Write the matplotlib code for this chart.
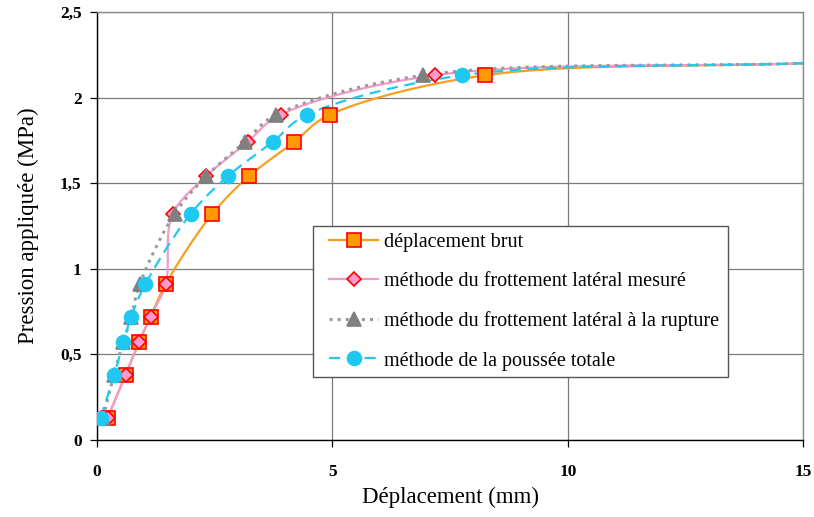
import numpy as np
import matplotlib
matplotlib.use("Agg")
import matplotlib.pyplot as plt
from matplotlib.lines import Line2D
from matplotlib.patches import Rectangle
from matplotlib.ticker import FuncFormatter

plt.rcParams["font.family"] = ["Liberation Serif", "DejaVu Serif"]

# Pression appliquée (MPa), shared by all series; last point has no marker
PRESSION = [0.13, 0.38, 0.57, 0.72, 0.91, 1.32, 1.54, 1.74, 1.90, 2.13, 2.20]

DEPL_BRUT    = [0.23, 0.61, 0.89, 1.14, 1.46, 2.45, 3.23, 4.19, 4.95, 8.24, 15.0]
DEPL_MESURE  = [0.23, 0.61, 0.89, 1.14, 1.46, 1.61, 2.32, 3.20, 3.90, 7.17, 15.0]
DEPL_RUPTURE = [0.13, 0.36, 0.56, 0.73, 0.91, 1.65, 2.32, 3.14, 3.81, 6.93, 15.0]
DEPL_POUSSEE = [0.08, 0.37, 0.56, 0.73, 1.03, 1.99, 2.78, 3.73, 4.47, 7.76, 15.0]

LABELS = ["déplacement brut",
          "méthode du frottement latéral mesuré",
          "méthode du frottement latéral à la rupture",
          "méthode de la poussée totale"]

STYLES = [
    # line colour, linestyle, marker, marker face, marker edge, size
    ("#F5A020", "-",  "s", "#FF9900", "#FF0000", 10.0),
    ("#F59AC8", "-",  "D", "#FF99CC", "#FF0000", 7.5),
    ("#9A9A9A", ":",  "^", "#808080", "#808080", 9.5),
    ("#22C8F0", (0, (5, 3)), "o", "#1EC8F0", "#1EC8F0", 10.0),
]


def smooth(x, y, n=30):
    """Centripetal Catmull-Rom curve through the points (Excel-like smoothed line)."""
    s = np.array([1 / 15.0, 1 / 2.5])
    q = np.column_stack([x, y]).astype(float) * s
    q = np.vstack([2 * q[0] - q[1], q, 2 * q[-1] - q[-2]])
    out = []
    for i in range(1, len(q) - 2):
        p0, p1, p2, p3 = q[i - 1], q[i], q[i + 1], q[i + 2]
        t0 = 0.0
        t1 = t0 + np.linalg.norm(p1 - p0) ** 0.5
        t2 = t1 + np.linalg.norm(p2 - p1) ** 0.5
        t3 = t2 + np.linalg.norm(p3 - p2) ** 0.5
        t = np.linspace(t1, t2, n, endpoint=False)[:, None]
        a1 = (t1 - t) / (t1 - t0) * p0 + (t - t0) / (t1 - t0) * p1
        a2 = (t2 - t) / (t2 - t1) * p1 + (t - t1) / (t2 - t1) * p2
        a3 = (t3 - t) / (t3 - t2) * p2 + (t - t2) / (t3 - t2) * p3
        b1 = (t2 - t) / (t2 - t0) * a1 + (t - t0) / (t2 - t0) * a2
        b2 = (t3 - t) / (t3 - t1) * a2 + (t - t1) / (t3 - t1) * a3
        out.append((t2 - t) / (t2 - t1) * b1 + (t - t1) / (t2 - t1) * b2)
    out.append(q[-2][None, :])
    c = np.vstack(out) / s
    return c[:, 0], c[:, 1]


fig = plt.figure(figsize=(8.14, 5.17), dpi=100)
ax = fig.add_axes([0.119, 0.149, 0.868, 0.828])

series = [DEPL_BRUT, DEPL_MESURE, DEPL_RUPTURE, DEPL_POUSSEE]
for k in [0, 2, 3, 1]:
    xs = series[k]
    col, ls, mk, mf, me, ms = STYLES[k]
    sx, sy = smooth(xs, PRESSION)
    lw = 2.2 if k == 2 else 1.6
    ax.plot(sx, sy, color=col, linestyle=ls, linewidth=lw, zorder=3 + k * 0.1)
    ax.plot(xs[:-1], PRESSION[:-1], linestyle="none", marker=mk, markersize=ms,
            markerfacecolor=mf, markeredgecolor=me, markeredgewidth=1.2,
            zorder=5 + k * 0.1)

handles = []
for k in range(4):
    col, ls, mk, mf, me, ms = STYLES[k]
    handles.append(Line2D([0], [0], color=col, linestyle=ls,
                          linewidth=2.2 if k == 2 else 1.6,
                          marker=mk, markersize=ms, markerfacecolor=mf,
                          markeredgecolor=me, markeredgewidth=1.2,
                          label=LABELS[k]))

ax.set_xlim(0, 15)
ax.set_ylim(0, 2.5)
ax.set_xticks([0, 5, 10, 15])
ax.set_yticks([0, 0.5, 1, 1.5, 2, 2.5])
ax.yaxis.set_major_formatter(FuncFormatter(lambda v, p: f"{v:g}".replace(".", ",")))
ax.grid(True, color="#7a7a7a", linewidth=0.9, zorder=0)
ax.set_axisbelow(True)

for side in ["top", "right"]:
    ax.spines[side].set_color("#8a8a8a")
    ax.spines[side].set_linewidth(1.0)
for side in ["left", "bottom"]:
    ax.spines[side].set_color("black")
    ax.spines[side].set_linewidth(1.0)

ax.tick_params(axis="both", direction="out", length=5, width=0.9,
               labelsize=12.5, pad=6)
for lab in ax.get_xticklabels() + ax.get_yticklabels():
    lab.set_fontweight("bold")
ax.tick_params(axis="x", pad=12)

ax.set_xlabel("Déplacement (mm)", fontsize=16.5, labelpad=5)
ax.set_ylabel("Pression appliquée (MPa)", fontsize=16.5, labelpad=15)

# legend box drawn by hand so the inner padding matches
W, H = 706.0, 428.0
ax.add_patch(Rectangle(((313 - 97) / W, (440 - 377) / H),
                       (728 - 313) / W, (377 - 226) / H,
                       transform=ax.transAxes, facecolor="white",
                       edgecolor="#555555", linewidth=1.0, zorder=9))
leg = ax.legend(handles=handles, loc="upper left",
                bbox_to_anchor=((329 - 97) / W, (440 - 233) / H),
                fontsize=14.5, frameon=False, handlelength=2.45,
                labelspacing=1.0, borderpad=0, handletextpad=0.3,
                borderaxespad=0)
leg.set_zorder(10)

fig.savefig("out.png", dpi=100, facecolor="white")
